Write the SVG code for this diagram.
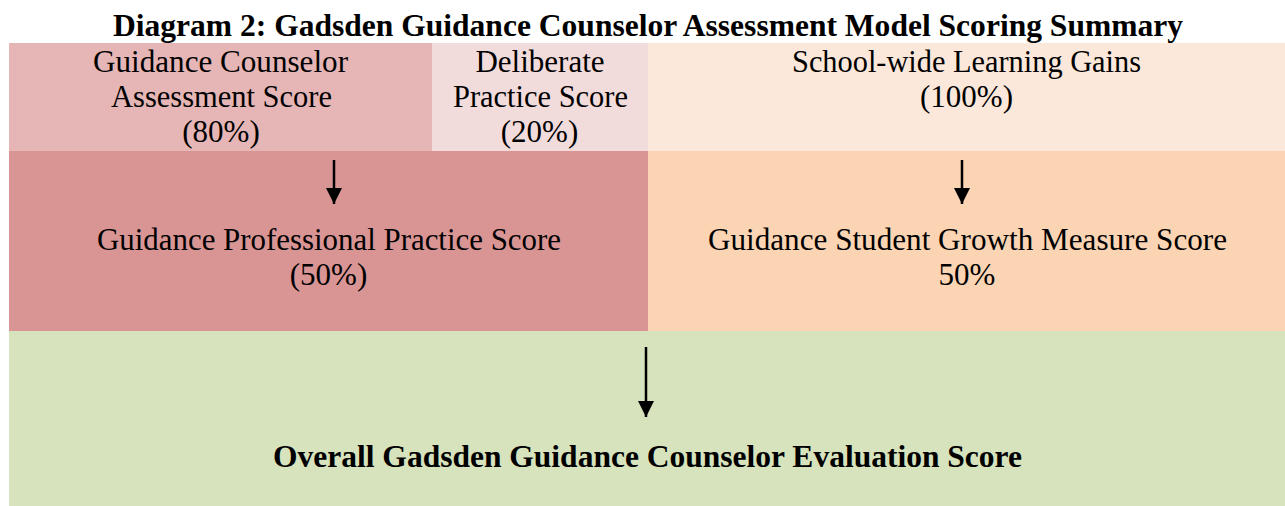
<svg xmlns="http://www.w3.org/2000/svg" width="1285" height="506" viewBox="0 0 1285 506">
<style>
.t{font-family:"Liberation Serif","Times New Roman",serif;font-size:31px;fill:#000;text-anchor:middle}
.b{font-weight:bold}
.c{stroke:#000;stroke-width:2.5;fill:none}
</style>
<defs>
<marker id="ah" viewBox="0 0 10 10" refX="10" refY="5" markerWidth="6.5" markerHeight="6.5" markerUnits="strokeWidth" orient="auto">
<path d="M0,0 L10,5 L0,10 z" fill="#000"/>
</marker>
</defs>
<rect width="1285" height="506" fill="#fff"/>
<text class="t b" x="648" y="36" font-size="29" textLength="1070" lengthAdjust="spacingAndGlyphs">Diagram 2: Gadsden Guidance Counselor Assessment Model Scoring Summary</text>
<g id="gc-assessment">
<rect x="9" y="43" width="423" height="108" fill="#E5B6B5"/>
<text class="t" x="220.5" y="72" textLength="255" lengthAdjust="spacingAndGlyphs">Guidance Counselor</text>
<text class="t" x="221.5" y="107" textLength="221" lengthAdjust="spacingAndGlyphs">Assessment Score</text>
<text class="t" x="221" y="142">(80%)</text>
</g>
<g id="deliberate">
<rect x="432" y="43" width="216" height="108" fill="#F2DBDB"/>
<text class="t" x="540" y="72">Deliberate</text>
<text class="t" x="540.5" y="107" textLength="175" lengthAdjust="spacingAndGlyphs">Practice Score</text>
<text class="t" x="539.5" y="142">(20%)</text>
</g>
<g id="learning-gains">
<rect x="648" y="43" width="637" height="108" fill="#FBE8DA"/>
<text class="t" x="966.5" y="72" textLength="349" lengthAdjust="spacingAndGlyphs">School-wide Learning Gains</text>
<text class="t" x="966.5" y="107">(100%)</text>
</g>
<g id="professional-practice">
<rect x="9" y="151" width="639" height="180" fill="#D99594"/>
<text class="t" x="329" y="250" textLength="464" lengthAdjust="spacingAndGlyphs">Guidance Professional Practice Score</text>
<text class="t" x="328.5" y="285">(50%)</text>
</g>
<g id="student-growth">
<rect x="648" y="151" width="637" height="180" fill="#FBD4B4"/>
<text class="t" x="967.5" y="250" textLength="519" lengthAdjust="spacingAndGlyphs">Guidance Student Growth Measure Score</text>
<text class="t" x="967" y="285">50%</text>
</g>
<g id="overall">
<rect x="9" y="331" width="1276" height="175" fill="#D6E3BC"/>
<text class="t b" x="647.5" y="467" font-size="31" textLength="749" lengthAdjust="spacingAndGlyphs">Overall Gadsden Guidance Counselor Evaluation Score</text>
</g>
<g id="connectors">
<line class="c" x1="334" y1="160" x2="334" y2="204" marker-end="url(#ah)"/>
<line class="c" x1="962" y1="160" x2="962" y2="204" marker-end="url(#ah)"/>
<line class="c" x1="646" y1="347" x2="646" y2="417" marker-end="url(#ah)"/>
</g>
</svg>
